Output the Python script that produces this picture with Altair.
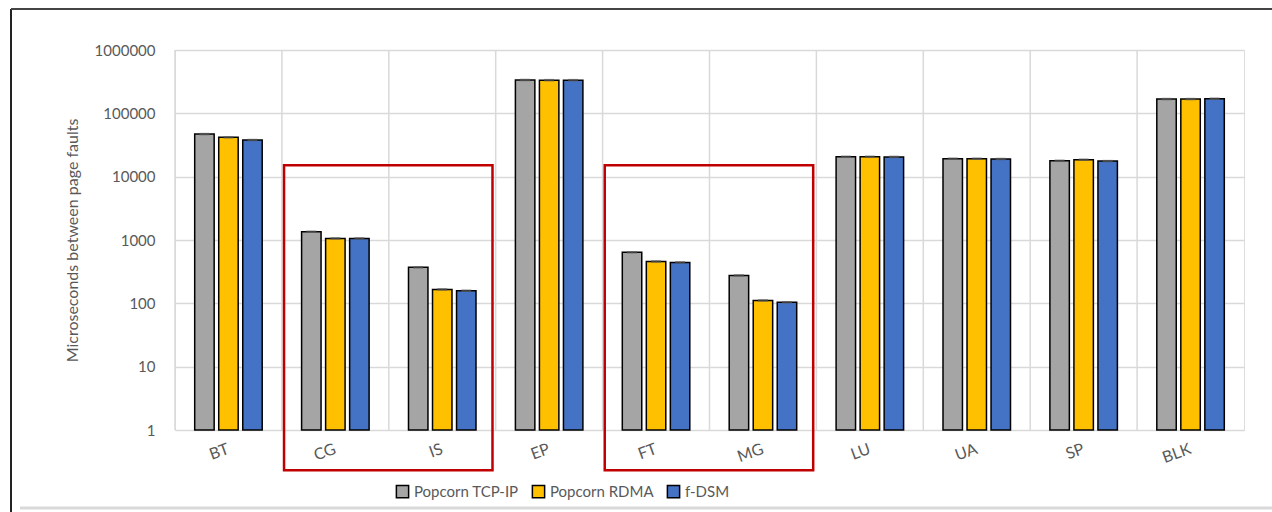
import altair as alt
import pandas as pd

# Benchmarks and mean time between page faults (microseconds, log scale)
benchmarks = ["BT", "CG", "IS", "EP", "FT", "MG", "LU", "UA", "SP", "BLK"]
systems = ["Popcorn TCP-IP", "Popcorn RDMA", "f-DSM"]
tcp_ip = [47000, 1350, 370, 336000, 640, 276, 20600, 19200, 17800, 168000]
rdma = [41800, 1060, 166, 334000, 458, 111, 20600, 19200, 18500, 168000]
fdsm = [37900, 1060, 158, 334000, 443, 104, 20500, 19000, 17600, 170000]
colors = ["#A5A5A5", "#FFC000", "#4472C4"]

# Highlighted benchmark pairs
box_start = ["CG", "FT"]
box_end = ["IS", "MG"]
box_top = 15200
box_bottom = 0.232

rows = []
for s, vals in zip(systems, [tcp_ip, rdma, fdsm]):
    for b, v in zip(benchmarks, vals):
        rows.append({"bench": b, "system": s, "value": v})
df = pd.DataFrame(rows)
boxes = pd.DataFrame({"start": box_start, "end": box_end,
                      "top": [box_top] * 2, "bottom": [box_bottom] * 2})
cats = pd.DataFrame({"bench": benchmarks})
one = pd.DataFrame({"k": [0]})

W, H = 1069, 380
FONT = "Lato"
TXT = "#595959"
GRID = "#D9D9D9"

xscale = alt.Scale(domain=benchmarks, paddingInner=0, paddingOuter=0)
yscale = alt.Scale(type="log", domain=[1, 1000000])

grid = alt.Chart(cats).mark_rule(color=GRID, strokeWidth=1.5).encode(
    x=alt.X("bench:N", bandPosition=0, scale=xscale, title=None,
            sort=benchmarks),
)

bars = alt.Chart(df).mark_bar(stroke="black", strokeWidth=1.5).encode(
    x=alt.X("bench:N", scale=xscale, sort=benchmarks, title=None,
            axis=alt.Axis(labelAngle=-20, labelPadding=18, ticks=False,
                          domain=False, grid=False, labelFontSize=16,
                          labelColor=TXT, labelFont=FONT)),
    xOffset=alt.XOffset("system:N", sort=systems,
                        scale=alt.Scale(domain=systems, paddingInner=0.19,
                                        paddingOuter=0.82)),
    y=alt.Y("value:Q", scale=yscale,
            title="Microseconds between page faults",
            axis=alt.Axis(values=[1, 10, 100, 1000, 10000, 100000, 1000000],
                          format="d", ticks=False, domain=False,
                          gridColor=GRID, gridWidth=1.5, labelFontSize=15,
                          labelColor=TXT, labelFont=FONT, labelPadding=20,
                          titleFont=FONT, titleFontSize=16, titleColor=TXT,
                          titleFontWeight="normal", titlePadding=14)),
    y2=alt.datum(1),
    color=alt.Color("system:N", sort=systems,
                    scale=alt.Scale(domain=systems, range=colors),
                    legend=alt.Legend(title=None, orient="none",
                                      direction="horizontal",
                                      legendX=220, legendY=434,
                                      symbolType="square", symbolSize=150,
                                      symbolStrokeColor="black",
                                      symbolStrokeWidth=1.5,
                                      labelFontSize=15, labelColor=TXT,
                                      labelFont=FONT, columnPadding=10,
                                      labelOffset=4, symbolOpacity=1)),
)

caps = alt.Chart(df).mark_tick(color="#595959", thickness=2.5, size=10).encode(
    x=alt.X("bench:N", scale=xscale, sort=benchmarks, title=None),
    xOffset=alt.XOffset("system:N", sort=systems),
    y=alt.Y("value:Q", scale=yscale),
)

box = alt.Chart(boxes).mark_rect(fill="transparent", stroke="#C00000",
                                 strokeWidth=2.5).encode(
    x=alt.X("start:N", bandPosition=0.02, scale=xscale, title=None),
    x2=alt.X2("end:N", bandPosition=0.97),
    y=alt.Y("top:Q", scale=yscale),
    y2="bottom:Q",
)

frame_left = alt.Chart(one).mark_rule(color="#222222", strokeWidth=2).encode(
    x=alt.value(-164), y=alt.value(-41), y2=alt.value(470))
frame_top = alt.Chart(one).mark_rule(color="#444444", strokeWidth=2).encode(
    x=alt.value(-164), x2=alt.value(1100), y=alt.value(-41))
frame_bottom = alt.Chart(one).mark_rule(color=GRID, strokeWidth=3).encode(
    x=alt.value(-155), x2=alt.value(1100), y=alt.value(458))

chart = alt.layer(grid, bars, caps, box, frame_left, frame_top, frame_bottom
).resolve_scale(x="shared").properties(
    width=W, height=H,
    autosize=alt.AutoSizeParams(type="none"),
    padding={"left": 175, "top": 50, "right": 28, "bottom": 82},
).configure_view(stroke=GRID, strokeWidth=1.5).configure(background="white")

chart.save("out.html", embed_options={"renderer": "svg", "actions": False})
